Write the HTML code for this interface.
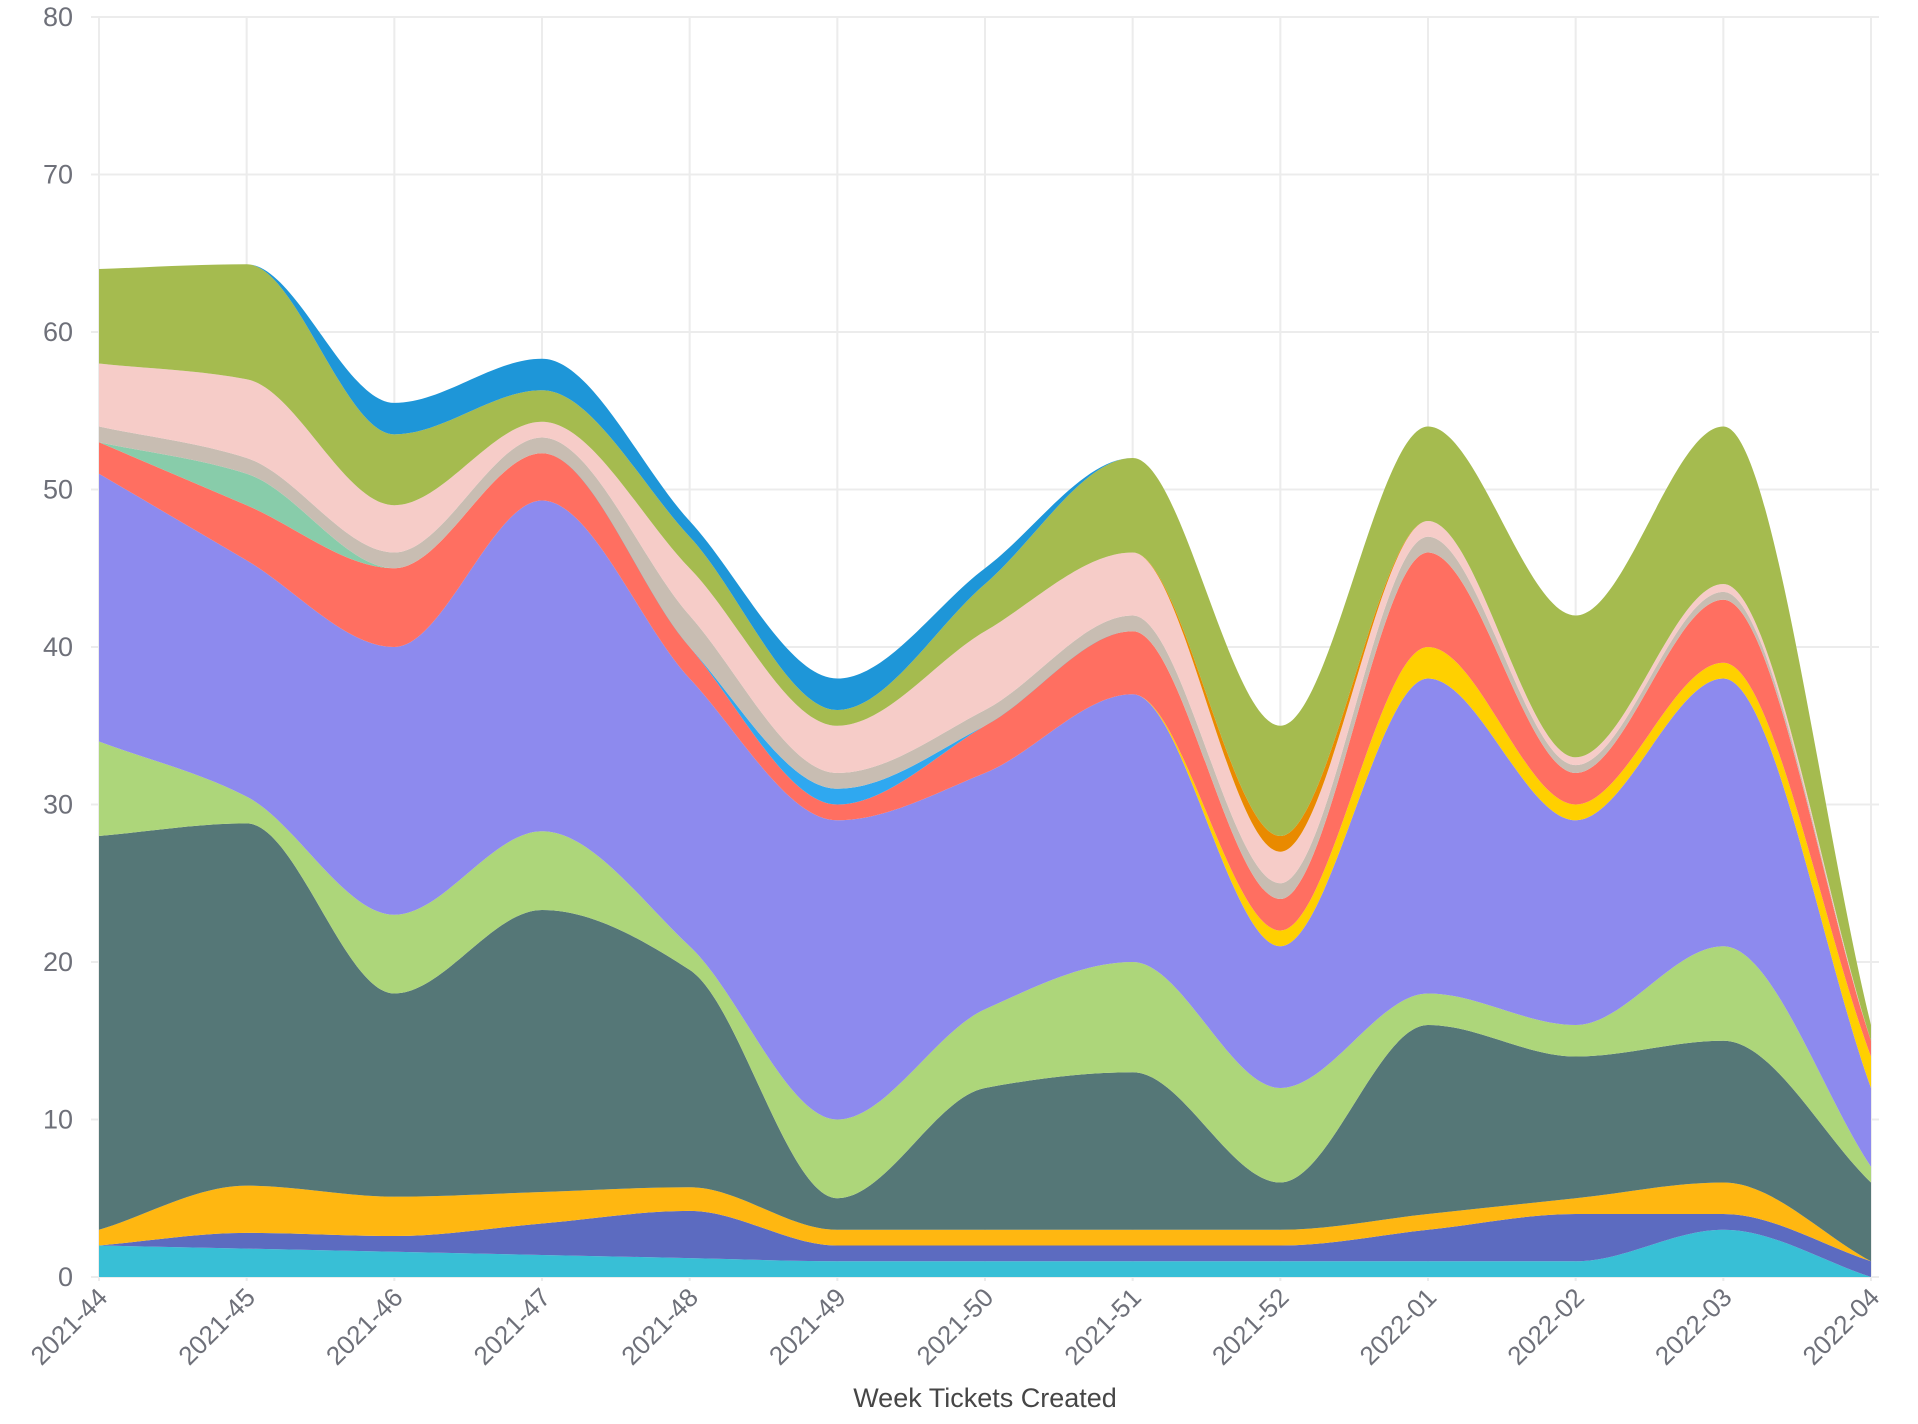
<!DOCTYPE html>
<html><head><meta charset="utf-8"><style>
html,body{margin:0;padding:0;background:#fff;}
svg{display:block;font-family:"Liberation Sans",sans-serif;}
</style></head><body>
<svg id="c" width="1918" height="1424" viewBox="0 0 1918 1424"></svg>
<script>
const svg=document.getElementById('c');
const X0=99,X1=1871,Y0=1277,YS=15.75;
const n=13,dx=(X1-X0)/12;
const xs=[...Array(n)].map((_,i)=>X0+i*dx);
const y=v=>Y0-v*YS;
let h='';
for(let v=0;v<=80;v+=10){h+=`<line x1="${X0-8}" x2="${X1+8}" y1="${y(v)}" y2="${y(v)}" stroke="#ececec" stroke-width="2"/>`;
h+=`<text x="73" y="${y(v)+9}" text-anchor="end" font-size="27" fill="#6e7079">${v}</text>`;}
xs.forEach(x=>{h+=`<line x1="${x}" x2="${x}" y1="${y(80)}" y2="${Y0+4}" stroke="#ececec" stroke-width="2"/>`;});
const tops=[
['#38bfd6',[2,1.8,1.6,1.4,1.2,1,1,1,1,1,1,3,0]],
['#5c6bc0',[2,2.8,2.6,3.4,4.2,2,2,2,2,3,4,4,1]],
['#ffb711',[3,5.8,5.1,5.4,5.7,3,3,3,3,4,5,6,1]],
['#557777',[28,28.8,18,23.3,19.5,5,12,13,6,16,14,15,6]],
['#add67a',[34,30.5,23,28.3,21,10,17,20,12,18,16,21,7]],
['#8d8aee',[51,45.5,40,49.3,38,29,32,37,21,38,29,38,12]],
['#ffd000',[51,45.5,40,49.3,38,29,32,37,22,40,30,39,14]],
['#ff6f61',[53,49,45,52.3,40,30,35,41,24,46,32,43,15]],
['#2fa8f0',[53,49,45,52.3,40,31,35,41,24,46,32,43,15]],
['#88ccaa',[53,51,45,52.3,40,31,35,41,24,46,32,43,15]],
['#c8bdb2',[54,52,46,53.3,42,32,36,42,25,47,32.5,43.5,15]],
['#f6ccc8',[58,57,49,54.3,45,35,41,46,27,48,33,44,15]],
['#e98a00',[58,57,49,54.3,45,35,41,46,28,48,33,44,15]],
['#a5bb4f',[64,64.3,53.5,56.3,47,36,44,52,35,54,42,54,16]],
['#1e96d8',[64,64.3,55.5,58.3,48,38,45,52,35,54,42,54,16]]];
function mono(px,py){
 const k=px.length,d=[],m=[];
 for(let i=0;i<k-1;i++)d.push((py[i+1]-py[i])/(px[i+1]-px[i]));
 for(let i=0;i<k;i++)m.push(0);
 for(let i=1;i<k-1;i++){m[i]=d[i-1]*d[i]<=0?0:2/(1/d[i-1]+1/d[i]);}
 m[0]=d[0];m[k-1]=d[k-2];
 const segs=[];
 for(let i=0;i<k-1;i++){const hh=(px[i+1]-px[i])/3;
  segs.push([px[i]+hh,py[i]+m[i]*hh,px[i+1]-hh,py[i+1]-m[i+1]*hh,px[i+1],py[i+1]]);}
 return segs;
}
let prev=xs.map(()=>Y0);
tops.forEach(([c,v])=>{
 const py=v.map(y);
 const s=mono(xs,py);
 let p=`M${xs[0]},${py[0]}`;
 s.forEach(q=>p+=`C${q.join(',')}`);
 const rx=[...xs].reverse(),ry=[...prev].reverse();
 const s2=mono(rx,ry);
 p+=`L${rx[0]},${ry[0]}`;
 s2.forEach(q=>p+=`C${q.join(',')}`);
 p+='Z';
 h+=`<path d="${p}" fill="${c}"/>`;
 prev=py;
});
const labs=['2021-44','2021-45','2021-46','2021-47','2021-48','2021-49','2021-50','2021-51','2021-52','2022-01','2022-02','2022-03','2022-04'];
xs.forEach((x,i)=>{h+=`<text transform="translate(${x+10},${Y0+22}) rotate(-45)" text-anchor="end" font-size="26" fill="#6e7079">${labs[i]}</text>`;});
h+=`<text x="985" y="1407" text-anchor="middle" font-size="27" fill="#464646">Week Tickets Created</text>`;
svg.innerHTML=h;
</script>
</body></html>
